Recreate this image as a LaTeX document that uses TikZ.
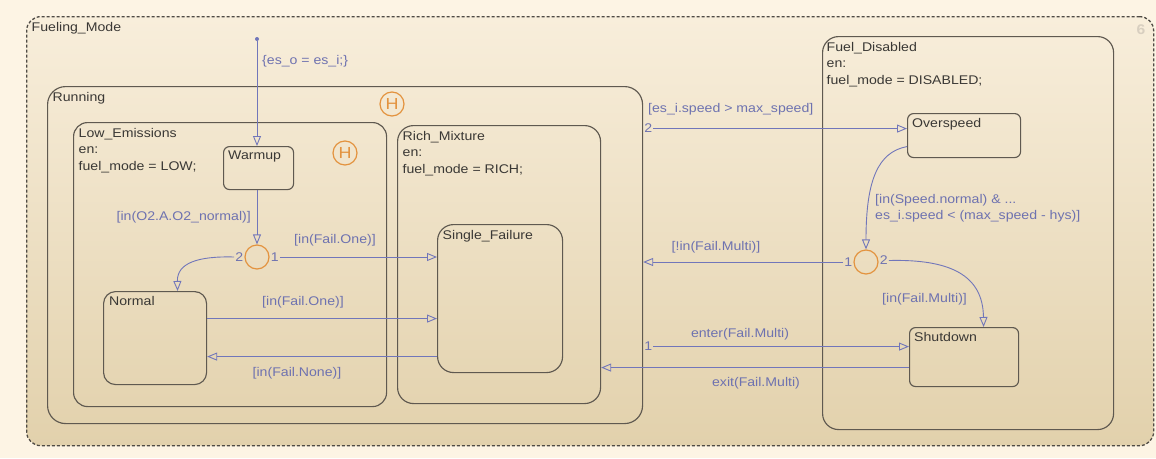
\documentclass[tikz,border=0pt]{standalone}
\usepackage{fontspec}
\setmainfont[FakeStretch=1.12]{Liberation Sans}
\usetikzlibrary{arrows.meta,calc,positioning}
\definecolor{bgout}{HTML}{FDF4E4}
\definecolor{shtop}{HTML}{F8EEDB}
\definecolor{shbot}{HTML}{E2D1AC}
\definecolor{edge}{HTML}{5F5950}
\definecolor{dashc}{HTML}{4F4B45}
\definecolor{trc}{HTML}{7176BA}
\definecolor{trt}{HTML}{6E72B0}
\definecolor{orng}{HTML}{E3933F}
\definecolor{txt}{HTML}{3A3835}
\definecolor{faint}{HTML}{D8CFC0}
\begin{document}
\begin{tikzpicture}[x=1pt,y=-1pt, font=\fontsize{12.6}{16.5}\selectfont,
  stbox/.style={draw=edge, line width=1.15pt, anchor=north west, inner sep=0pt},
  slabel/.style={anchor=north west, inner sep=0pt, text=txt, align=left},
  tr/.style={draw=trc, line width=0.9pt, -{Triangle[open, length=10pt, width=8pt]}},
  tl/.style={text=trt, inner sep=0pt},
  num/.style={text=trt, inner sep=1pt},
  junc/.style={circle, draw=orng, line width=1.2pt, minimum size=24pt, inner sep=0pt},
  hist/.style={circle, draw=orng, line width=1.2pt, minimum size=24pt, inner sep=0pt, text=orng, font=\fontsize{16}{16}\selectfont}]
\fill[bgout] (0,0) rectangle (1156,458);
\useasboundingbox (0,0) rectangle (1156,458);
% states
\node[stbox, draw=dashc, line width=1.3pt, dash pattern=on 3pt off 2pt, rounded corners=14pt, top color=shtop, bottom color=shbot, minimum width=1127pt, minimum height=429pt] (fm) at (26,16) {};
\node[stbox, rounded corners=18pt, minimum width=595pt, minimum height=337pt] (rn) at (47,86) {};
\node[stbox, rounded corners=14pt, minimum width=313pt, minimum height=284pt] (le) at (73,122) {};
\node[stbox, rounded corners=16pt, minimum width=203pt, minimum height=278pt] (rm) at (397,125) {};
\node[stbox, rounded corners=16pt, minimum width=125pt, minimum height=148pt] (sf) at (437,224) {};
\node[stbox, rounded corners=6pt, minimum width=70pt, minimum height=43pt] (wu) at (223,146) {};
\node[stbox, rounded corners=12pt, minimum width=103pt, minimum height=93pt] (nm) at (103,291) {};
\node[stbox, rounded corners=16pt, minimum width=291pt, minimum height=393pt] (fd) at (822,36) {};
\node[stbox, rounded corners=6pt, minimum width=113pt, minimum height=44pt] (ov) at (907,113) {};
\node[stbox, rounded corners=6pt, minimum width=109pt, minimum height=59pt] (sd) at (909,327) {};
% state labels
\node[slabel] at ([shift={(5.5pt,-6pt)}]fm.north west) {Fueling\_Mode};
\node[slabel] at ([shift={(5.5pt,-6pt)}]rn.north west) {Running};
\node[slabel] at ([shift={(5.5pt,-6pt)}]le.north west) {Low\_Emissions\\en:\\fuel\_mode = LOW;};
\node[slabel] at ([shift={(5.5pt,-6pt)}]rm.north west) {Rich\_Mixture\\en:\\fuel\_mode = RICH;};
\node[slabel] at ([shift={(5.5pt,-6pt)}]sf.north west) {Single\_Failure};
\node[slabel] at ([shift={(5pt,-5pt)}]wu.north west) {Warmup};
\node[slabel] at ([shift={(6pt,-5pt)}]nm.north west) {Normal};
\node[slabel] at ([shift={(4.5pt,-6pt)}]fd.north west) {Fuel\_Disabled\\en:\\fuel\_mode = DISABLED;};
\node[slabel] at ([shift={(5pt,-5pt)}]ov.north west) {Overspeed};
\node[slabel] at ([shift={(5pt,-5pt)}]sd.north west) {Shutdown};
\node[text=faint, font=\fontsize{14}{14}\selectfont\bfseries] (six) at (1141,30) {6};
% history and junctions
\node[hist] (h1) at (392,104) {H};
\node[hist] (h2) at (345,153) {H};
\node[junc] (jl) at (257,257) {};
\node[junc] (jr) at (866,262) {};
% default transition
\node[fill=trc, circle, inner sep=0pt, minimum size=4pt] (dot) at (257,39) {};
\draw[tr] (dot) -- (dot |- wu.north);
\node[tl, anchor=west] (l0) at (262,61) {\{es\_o = es\_i;\}};
% warmup -> junction
\draw[tr] (wu.south -| jl.north) -- (jl.north);
\node[tl, anchor=east] (l1) at (251,217) {[in(O2.A.O2\_normal)]};
% junction left branches
\node[num, anchor=east] (jl2) at (jl.west) {2};
\draw[tr] (jl2.west) .. controls (198,256) and (177,263) .. ([xshift=22.5pt]nm.north);
\node[num, anchor=west] (jl1) at (jl.east) {1};
\draw[tr] (jl1.east) -- (jl1.east -| sf.west);
\node[tl] (l2) at (335,240) {[in(Fail.One)]};
% normal <-> single failure
\coordinate (n1) at ([yshift=19.5pt]nm.east);
\draw[tr] (n1) -- (n1 -| sf.west);
\node[tl] (l3) at (303,302) {[in(Fail.One)]};
\coordinate (n2) at ([yshift=-18.5pt]nm.east);
\draw[tr] (n2 -| sf.west) -- (n2);
\node[tl] (l4) at (297,373) {[in(Fail.None)]};
% running -> overspeed
\coordinate (r2) at ([yshift=126.5pt]rn.east);
\node[num, anchor=west] (r2l) at (r2) {2};
\draw[tr] (r2l.east) -- (r2l.east -| ov.west);
\node[tl, anchor=west] (l5) at (648,109) {[es\_i.speed > max\_speed]};
% overspeed -> junction
\draw[tr] ([yshift=-11pt]ov.west) .. controls (878,152) and (866,180) .. (jr.north);
\node[tl, anchor=north west, align=left] (l6) at (875,194) {[in(Speed.normal) \& ...\\es\_i.speed < (max\_speed - hys)]};
% junction right branches
\node[num, anchor=east] (jr1) at (jr.west) {1};
\draw[tr] (jr1.west) -- (jr1.west -| rn.east);
\node[tl] (l7) at (716,247) {[!in(Fail.Multi)]};
\node[num, anchor=west] (jr2) at ([yshift=1.5pt]jr.east) {2};
\draw[tr] (jr2.east) .. controls (950,259) and (983,275) .. ([xshift=19.5pt]sd.north);
\node[tl, anchor=west] (l8) at (882,299) {[in(Fail.Multi)]};
% running -> shutdown
\coordinate (r1) at ([yshift=-91.5pt]rn.east);
\node[num, anchor=west] (r1l) at (r1) {1};
\draw[tr] (r1l.east) -- (r1l.east -| sd.west);
\node[tl] (l9) at (740,334) {enter(Fail.Multi)};
% shutdown -> rich mixture
\coordinate (s1) at ([yshift=-10.5pt]sd.west);
\draw[tr] (s1) -- (s1 -| rm.east);
\node[tl] (l10) at (756,383) {exit(Fail.Multi)};
\end{tikzpicture}
\end{document}
